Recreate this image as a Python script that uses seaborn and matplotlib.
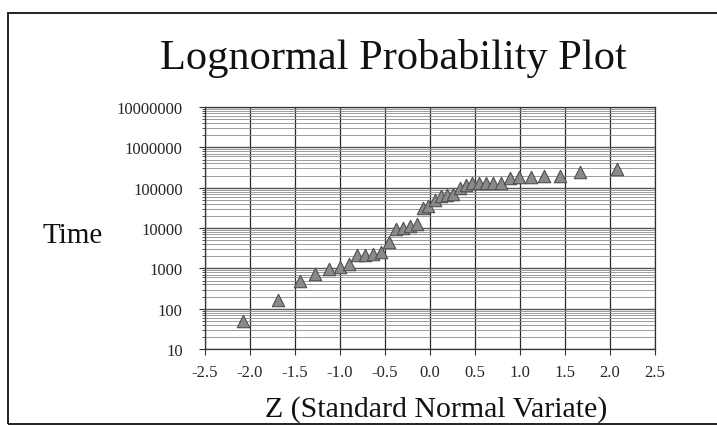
import matplotlib
matplotlib.use("Agg")
import matplotlib.pyplot as plt
from matplotlib.ticker import FixedLocator, FixedFormatter, LogLocator, NullFormatter
from matplotlib.patches import Rectangle
import seaborn as sns
import pandas as pd

# Data
z_values = [-2.08, -1.69, -1.45, -1.28, -1.12, -1.00, -0.90, -0.81, -0.72, -0.63,
            -0.54, -0.46, -0.38, -0.30, -0.22, -0.15, -0.08, -0.02, 0.05, 0.12,
            0.19, 0.26, 0.33, 0.40, 0.47, 0.54, 0.62, 0.70, 0.79, 0.89,
            0.99, 1.12, 1.27, 1.44, 1.67, 2.08]
time_values = [51, 165, 480, 740, 950, 1100, 1300, 2200, 2200, 2300,
               2500, 4500, 9600, 10000, 11000, 12500, 31000, 35000, 50000, 63000,
               66000, 70000, 100000, 118000, 130000, 134000, 134000, 134000, 134000, 170000,
               180000, 180000, 200000, 190000, 250000, 285000]
y_ticks = [10, 100, 1000, 10000, 100000, 1000000, 10000000]
y_tick_labels = ["10", "100", "1000", "10000", "100000", "1000000", "10000000"]
x_ticks = [-2.5, -2.0, -1.5, -1.0, -0.5, 0.0, 0.5, 1.0, 1.5, 2.0, 2.5]
x_tick_labels = ["-2.5", "-2.0", "-1.5", "-1.0", "-0.5", "0.0", "0.5", "1.0", "1.5", "2.0", "2.5"]

df = pd.DataFrame({"Z": z_values, "Time": time_values})

sns.set_style("white")
plt.rcParams["font.family"] = ["Liberation Serif", "DejaVu Serif"]

fig = plt.figure(figsize=(7.17, 4.27), dpi=100)
ax = fig.add_axes([0.286, 0.180, 0.6275, 0.567])

ax.set_yscale("log")
ax.set_ylim(10, 1e7)
ax.set_xlim(-2.5, 2.5)

ax.yaxis.set_major_locator(FixedLocator(y_ticks))
ax.yaxis.set_major_formatter(FixedFormatter(y_tick_labels))
ax.yaxis.set_minor_locator(LogLocator(base=10, subs=range(2, 10), numticks=20))
ax.yaxis.set_minor_formatter(NullFormatter())
ax.xaxis.set_major_locator(FixedLocator(x_ticks))
ax.xaxis.set_major_formatter(FixedFormatter(x_tick_labels))

ax.grid(True, which="major", axis="y", color="#555555", linewidth=1.0)
ax.grid(True, which="minor", axis="y", color="#8c8c8c", linewidth=0.6)
ax.grid(True, which="major", axis="x", color="#2a2a2a", linewidth=0.9)
ax.set_axisbelow(True)

sns.scatterplot(data=df, x="Z", y="Time", marker="^", s=80, color="#8a8a8a",
                edgecolor="#505050", linewidth=0.8, ax=ax, zorder=3, legend=False)

ax.set_xlabel("")
ax.set_ylabel("")
for sp in ax.spines.values():
    sp.set_color("#333333")
    sp.set_linewidth(0.9)

ax.tick_params(axis="y", which="major", length=4, width=0.8, color="#333333",
               labelsize=12, pad=12, left=True)
ax.tick_params(axis="y", which="minor", length=2, width=0.6, color="#333333", left=True)
ax.tick_params(axis="x", which="major", length=4, width=0.8, color="#333333",
               labelsize=12, pad=7, bottom=True)

fig.text(0.548, 0.862, "Lognormal Probability Plot", ha="center", va="center",
         fontsize=30.5, color="#111111")
fig.text(0.101, 0.447, "Time", ha="center", va="center", fontsize=21, color="#111111")
fig.text(0.608, 0.042, "Z (Standard Normal Variate)", ha="center", va="center",
         fontsize=21.5, color="#111111")

# outer chart border (partially visible in the scan)
fig.patches.append(Rectangle((8 / 717, 1 - 425 / 427), 1.0, (425 - 14) / 427,
                             transform=fig.transFigure, fill=False,
                             edgecolor="#222222", linewidth=1.4, zorder=0))

fig.savefig("out.png", dpi=100, facecolor="white")
